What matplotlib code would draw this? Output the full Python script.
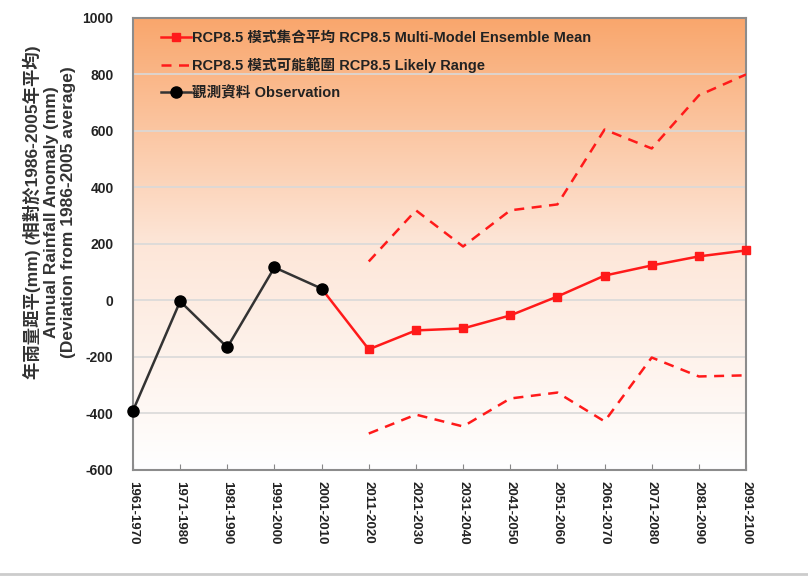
import numpy as np
import matplotlib
matplotlib.use('Agg')
import matplotlib.pyplot as plt
from matplotlib.colors import LinearSegmentedColormap

plt.rcParams['font.family'] = ['Liberation Sans', 'Noto Sans CJK TC']
plt.rcParams['font.weight'] = 'bold'
plt.rcParams['axes.unicode_minus'] = False

periods = ['1961-1970', '1971-1980', '1981-1990', '1991-2000', '2001-2010',
           '2011-2020', '2021-2030', '2031-2040', '2041-2050', '2051-2060',
           '2061-2070', '2071-2080', '2081-2090', '2091-2100']

# observation (first 5 decades)
obs = [-390, -3, -166, 117, 42]
# ensemble mean 2011-2100 (line joins the last observed point)
ens_mean = [-173, -106, -99, -53, 14, 88, 124, 156, 177]
likely_upper = [138, 319, 191, 319, 340, 605, 538, 726, 800]
likely_lower = [-471, -404, -446, -347, -326, -428, -202, -269, -265]

x = np.arange(len(periods))
x_obs = x[:5]
x_proj = x[5:]

fig = plt.figure(figsize=(8.08, 5.79), dpi=100)
ax = fig.add_axes([0.1646, 0.1883, 0.7587, 0.7807])

# orange to white background
cmap = LinearSegmentedColormap.from_list('bg', ['#ffffff', '#fde6d8', '#f9a66c'])
grad = np.linspace(0, 1, 256).reshape(-1, 1)
ax.imshow(grad, cmap=cmap, origin='lower', aspect='auto',
          extent=[0, 13, -600, 1000], zorder=0)

ax.set_xlim(0, 13)
ax.set_ylim(-600, 1000)
ax.set_yticks(np.arange(-600, 1001, 200))
ax.yaxis.grid(True, color='#d9d9d9', linewidth=1.2, zorder=1)
ax.set_axisbelow(True)

# red line from last obs into the projections
ax.plot([x_obs[-1], x_proj[0]], [obs[-1], ens_mean[0]], color='#ff1a1a', lw=1.8, zorder=3)
ax.plot(x_proj, ens_mean, color='#ff1a1a', lw=1.8, marker='s', ms=6, clip_on=False,
        label='RCP8.5 模式集合平均 RCP8.5 Multi-Model Ensemble Mean', zorder=4)
ax.plot(x_proj, likely_upper, color='#ff1a1a', lw=1.8, ls=(0, (4, 3)),
        label='RCP8.5 模式可能範圍 RCP8.5 Likely Range', zorder=3)
ax.plot(x_proj, likely_lower, color='#ff1a1a', lw=1.8, ls=(0, (4, 3)), zorder=3)
ax.plot(x_obs, obs, color='#333333', lw=1.8, marker='o', ms=8, mfc='black', mec='black',
        label='觀測資料 Observation', zorder=5, clip_on=False)

ax.set_xticks(x)
ax.set_xticklabels(periods, rotation=270, fontsize=9.5, color='#222222')
ax.tick_params(axis='x', direction='in', length=4, color='#888888', pad=8)
ax.tick_params(axis='y', length=0, labelsize=10, colors='#222222', pad=14)

for s in ax.spines.values():
    s.set_color('#8c8c8c')
    s.set_linewidth(1.5)

ax.set_ylabel('年雨量距平(mm) (相對於1986-2005年平均)\nAnnual Rainfall Anomaly (mm)\n(Deviation from 1986-2005 average)',
              fontsize=12.5, fontweight='bold', color='#333333', linespacing=1.2)
ax.yaxis.set_label_coords(-0.093, 0.57)

leg = ax.legend(loc='upper left', frameon=False, fontsize=10.5, handlelength=2.0,
                handletextpad=0.1, borderaxespad=0.5, labelspacing=0.85,
                bbox_to_anchor=(0.025, 1.0))
for t in leg.get_texts():
    t.set_color('#222222')

fig.add_artist(plt.Line2D([0, 1], [0.008, 0.008], color='#cccccc', lw=2))

fig.savefig('out.png', dpi=100)
